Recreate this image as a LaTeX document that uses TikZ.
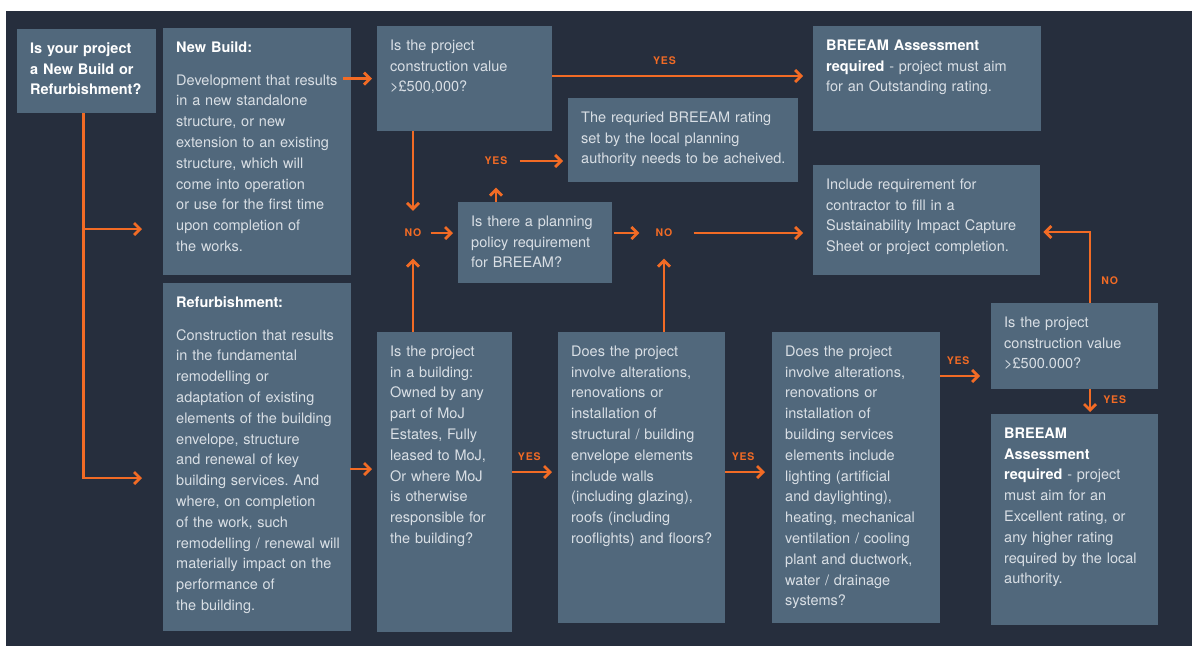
\documentclass[tikz,border=0pt]{standalone}
\usepackage{fontspec}
\setmainfont{TeX Gyre Heros}
\newfontfamily\tagfont[LetterSpace=8]{TeX Gyre Heros}
\usepackage{tikz}
\usetikzlibrary{arrows.meta, positioning}
\definecolor{bgdark}{HTML}{262E3D}
\definecolor{boxblue}{HTML}{51687C}
\definecolor{flow}{HTML}{F26B25}
\definecolor{ink}{HTML}{D9DFE5}
\newcommand{\bodyfont}{\fontsize{14.5}{20.8}\selectfont}
\newcommand{\hd}[1]{{\color{white}\bfseries #1}}
\frenchspacing
\tikzset{
    >={Straight Barb[length=6pt,width=12pt]},   % open orange arrow heads
    box/.style={fill=boxblue, anchor=north west, inner xsep=13pt, inner ysep=0pt,
        text height=24pt, text=ink, font=\bodyfont,
        execute at begin node={\rightskip=0pt plus 1fil minus 16pt\relax}},
    sized/.style 2 args={text width=#1pt-26pt, text depth=#2pt-24pt},   % outer width and height of a box
    wire/.style={draw=flow, line width=2.8pt, ->},
    tag/.style={text=flow, font=\tagfont\bfseries\fontsize{10.5}{12}\selectfont, inner sep=0pt},
}

\begin{document}
\begin{tikzpicture}[x=1pt, y=-1pt]

\useasboundingbox (0,0) rectangle (1192,646);
\fill[bgdark] (6,11) rectangle (1192,646);

% left column
\node[box, sized={139}{84}] (q) at (17,29) {\hd{Is your project\\a New Build or\\Refurbishment?}};
\node[box, sized={188}{247}] (nb) at (163,28) {\hd{New Build:}\\[12pt]Development that results\\in a new standalone\\structure, or new\\extension to an existing\\structure, which will\\come into operation\\or use for the first time\\upon completion of\\the works.};
\node[box, sized={188}{348}] (rf) at (163,283) {\hd{Refurbishment:}\\[12pt]Construction that results\\in the fundamental\\remodelling or\\adaptation of existing\\elements of the building\\envelope, structure\\and renewal of key\\building services. And\\where, on completion\\of the work, such\\remodelling / renewal will\\materially impact on the\\performance of\\the building.};

% top row
\node[box, sized={175}{105}] (v1) at (377,26) {Is the project\\construction value\\>£500,000?};
\node[box, sized={228}{105}] (out) at (813,26) {\hd{BREEAM Assessment\\required} - project must aim\\for an Outstanding rating.};
\node[box, sized={230}{84}] (rt) at (568,98) {The requried BREEAM rating\\set by the local planning\\authority needs to be acheived.};
\node[box, sized={154}{81}] (pp) at (458,202) {Is there a planning\\policy requirement\\for BREEAM?};
\node[box, sized={227}{110}] (inc) at (813,165) {Include requirement for\\contractor to fill in a\\Sustainability Impact Capture\\Sheet or project completion.};

% bottom row
\node[box, sized={135}{300}] (moj) at (377,332) {Is the project\\in a building:\\Owned by any\\part of MoJ\\Estates, Fully\\leased to MoJ,\\Or where MoJ\\is otherwise\\responsible for\\the building?};
\node[box, sized={167}{291}] (st) at (558,332) {Does the project\\involve alterations,\\renovations or\\installation of\\structural / building\\envelope elements\\include walls\\(including glazing),\\roofs (including\\rooflights) and floors?};
\node[box, sized={168}{291}] (sv) at (772,332) {Does the project\\involve alterations,\\renovations or\\installation of\\building services\\elements include\\lighting (artificial\\and daylighting),\\heating, mechanical\\ventilation / cooling\\plant and ductwork,\\water / drainage\\systems?};
\node[box, sized={167}{86}] (v2) at (991,303) {Is the project\\construction value\\>£500.000?};
\node[box, sized={167}{211}] (ex) at (991,414) {\hd{BREEAM\\Assessment\\required} - project\\must aim for an\\Excellent rating, or\\any higher rating\\required by the local\\authority.};

% free-standing answers
\node[tag] (no1) at (413,233) {NO};
\node[tag] (yes1) at (496,161) {YES};
\node[tag] (no2) at (664,233) {NO};

\coordinate (trunk) at ([xshift=-3pt]q.south);
\coordinate (nbin) at (142,229);
\coordinate (rfin) at (142,478);
\coordinate (vx) at (1090,0);

\draw[wire] (trunk) |- (rfin);
\draw[wire] (trunk |- nbin) -- (nbin);
\draw[wire, shorten <=-8pt, shorten >=5pt] (nb.east |- v1.west) -- (v1.west);
\draw[wire, shorten <=-1pt, shorten >=5pt] (rf.east |- 0,469) -- (moj.west |- 0,469);

\draw[wire, shorten >=10pt] (v1.east |- 0,76) -- node[tag, pos=0.43, above=10pt] (yes0) {YES} (out.west |- 0,76);
\draw[wire, shorten >=18pt] (v1.south -| no1) -- (no1);
\draw[wire, shorten >=21.5pt] (moj.north -| no1) -- (no1);
\draw[wire, shorten <=9pt, shorten >=5pt] (no1) -- (pp.west |- no1);
\draw[wire, shorten >=22.5pt] (pp.north -| yes1) -- (yes1);
\draw[wire, shorten <=12pt, shorten >=5pt] (yes1) -- (rt.west |- yes1);
\draw[wire, shorten <=2pt, shorten >=16pt] (pp.east |- no2) -- (no2);
\draw[wire, shorten <=21pt, shorten >=10pt] (no2) -- (inc.west |- no2);
\draw[wire, shorten >=21.5pt] (st.north -| no2) -- (no2);

\draw[wire, shorten >=6pt] (moj.east |- 0,472) -- node[tag, pos=0.37, above=10pt] (yes2) {YES} (st.west |- 0,472);
\draw[wire, shorten >=7pt] (st.east |- 0,472) -- node[tag, pos=0.38, above=10pt] (yes3) {YES} (sv.west |- 0,472);
\draw[wire, shorten >=11pt] (sv.east |- 0,376) -- node[tag, pos=0.35, above=10pt] (yes4) {YES} (v2.west |- 0,376);

\draw[wire, shorten >=3pt] (v2.north -| vx) |- node[tag, pos=0.16, right=10pt] (no3) {NO} (inc.east |- 0,232);
\draw[wire, shorten >=2pt] (v2.south -| vx) -- node[tag, pos=0.4, right=12pt] (yes5) {YES} (ex.north -| vx);

\end{tikzpicture}
\end{document}
